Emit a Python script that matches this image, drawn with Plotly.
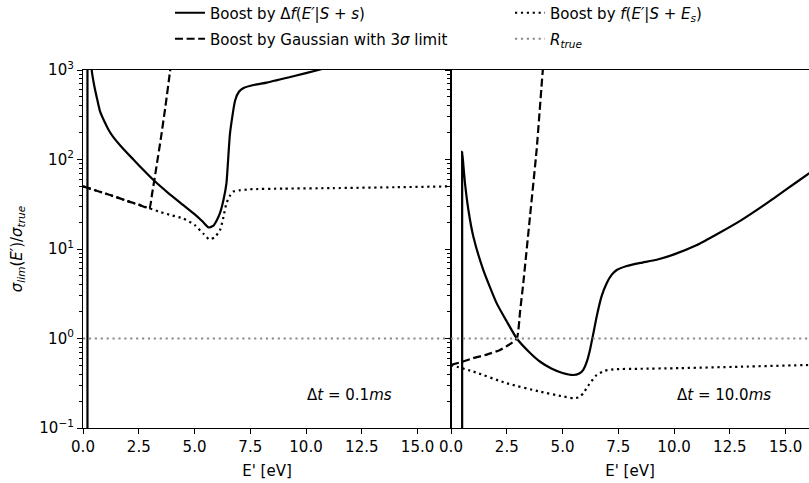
import plotly.graph_objects as go

# ---------------- data ----------------
# Left panel: dt = 0.1 ms
E_solid_a = [0.2, 0.2, 0.3, 0.39, 0.5, 0.62, 0.76, 0.95, 1.15, 1.36, 1.8, 2.26, 2.7, 3.16, 3.8, 4.5, 5.0,
             5.35, 5.63, 5.85, 6.0, 6.14, 6.3, 6.43, 6.59, 6.82, 7.0, 7.2, 7.7, 8.24, 9.43, 10.55, 12.0,
             14.0, 16.5]
V_solid_a = [0.001, 1e6, 5012, 1000, 676, 490, 347, 269, 214, 178, 132, 100, 76.7, 58.9, 42.7, 30.9, 24.5,
             20.4, 17.4, 18.2, 20.9, 25.1, 35.5, 53.7, 195, 457, 575, 631, 684, 724, 851, 1000, 1259,
             1778, 2512]

E_dash_a = [0, 0.5, 1.0, 1.5, 2.0, 2.5, 2.97, 3.1, 3.3, 3.5, 3.7, 3.9, 3.95]
V_dash_a = [50.1, 45.7, 41.7, 38.0, 34.3, 31.3, 28.5, 41.7, 85.1, 178, 398, 955, 1202]

E_dot_a = [0, 1.0, 2.0, 2.97, 3.5, 4.0, 4.5, 5.0, 5.4, 5.66, 5.9, 6.14, 6.3, 6.43, 6.6, 6.72,
           7.0, 7.49, 9.0, 11.2, 14.0, 16.5]
V_dot_a = [50.1, 41.7, 34.3, 28.5, 25.7, 23.7, 21.9, 18.6, 14.8, 12.8, 13.5, 16.2, 22.9, 32.4, 39.8, 43.7,
           45.2, 46.5, 47.3, 47.9, 49.0, 50.1]

# Right panel: dt = 10.0 ms
E_solid_b = [0.5, 0.5, 0.55, 0.63, 0.78, 1.0, 1.45, 2.05, 2.5, 2.95, 3.5, 4.0, 4.5, 5.0, 5.48, 5.75,
             5.93, 6.1, 6.23, 6.4, 6.53, 6.75, 6.98, 7.2, 7.43, 7.88, 8.5, 9.22, 10.0, 11.0, 12.0,
             13.0, 14.0, 15.0, 16.05, 16.5]
V_solid_b = [0.001, 122, 89.1, 53.7, 27.3, 13.8, 5.82, 2.47, 1.55, 1.0, 0.708, 0.550, 0.462, 0.412, 0.391, 0.407,
             0.447, 0.562, 0.745, 1.20, 1.75, 2.95, 4.14, 5.13, 5.82, 6.46, 7.00, 7.59, 8.71, 11.0, 15.0,
             20.9, 30.5, 45.7, 70.0, 84.1]

E_dash_b = [0, 0.5, 1.0, 1.6, 2.2, 2.6, 2.95, 3.1, 3.24, 3.54, 3.84, 4.11, 4.16]
V_dash_b = [0.506, 0.550, 0.603, 0.661, 0.745, 0.851, 1.0, 2.04, 4.14, 22.9, 129, 955, 1259]

E_dot_b = [0, 1.0, 2.5, 3.99, 5.0, 5.48, 5.75, 5.93, 6.2, 6.53, 6.9, 7.28, 8.5, 9.97, 13.0, 16.05, 16.5]
V_dot_b = [0.506, 0.427, 0.316, 0.255, 0.226, 0.215, 0.221, 0.245, 0.309, 0.391, 0.437, 0.453, 0.459,
           0.465, 0.484, 0.506, 0.509]

E_true = [0, 16.5]
R_true = [1.0, 1.0]

x_ticks = [0, 2.5, 5, 7.5, 10, 12.5, 15]
x_ticktext = ["0.0", "2.5", "5.0", "7.5", "10.0", "12.5", "15.0"]
y_ticks = [0.1, 1, 10, 100, 1000]
y_ticktext = ["10<sup>−1</sup>", "10<sup>0</sup>", "10<sup>1</sup>", "10<sup>2</sup>", "10<sup>3</sup>"]
y_minor = [m * 10.0 ** k for k in range(-1, 3) for m in range(2, 10)]

labels = [
    "Boost by Δ<i>f</i>(<i>E′</i>|<i>S</i> + <i>s</i>)",
    "Boost by Gaussian with 3<i>σ</i> limit",
    "Boost by <i>f</i>(<i>E′</i>|<i>S</i> + <i>E<sub>s</sub></i>)",
    "<i>R<sub>true</sub></i>",
]
panel_text = ["Δ<i>t</i> = 0.1<i>ms</i>", "Δ<i>t</i> = 10.0<i>ms</i>"]

# ---------------- figure ----------------
W, H = 809, 483
ML, MR, MT, MB = 83, 0, 70, 55
PW = W - ML - MR
PH = H - MT - MB
split = (451 - ML) / PW

FONT = "DejaVu Sans"
LW = 2.2
DASH = "8px,3.6px"
DOT = "2.2px,3.7px"

fig = go.Figure()

def add(x, y, xa, ya, dash, color, name, legend, show, shape="spline"):
    fig.add_trace(go.Scatter(
        x=x, y=y, xaxis=xa, yaxis=ya, mode="lines", name=name,
        line=dict(color=color, width=LW, dash=dash, shape=shape, smoothing=0.5),
        legend=legend, showlegend=show, hoverinfo="skip"))

add(E_solid_a, V_solid_a, "x", "y", "solid", "black", labels[0], "legend", True)
add(E_dash_a, V_dash_a, "x", "y", DASH, "black", labels[1], "legend2", True)
add(E_dot_a, V_dot_a, "x", "y", DOT, "black", labels[2], "legend3", True)
add(E_true, R_true, "x", "y", DOT, "#8c8c8c", labels[3], "legend4", True, "linear")

add(E_solid_b, V_solid_b, "x2", "y2", "solid", "black", labels[0], "legend", False)
add(E_dash_b, V_dash_b, "x2", "y2", DASH, "black", labels[1], "legend2", False)
add(E_dot_b, V_dot_b, "x2", "y2", DOT, "black", labels[2], "legend3", False)
add(E_true, R_true, "x2", "y2", DOT, "#8c8c8c", labels[3], "legend4", False, "linear")

tickfont = dict(family=FONT, size=15, color="black")
xcommon = dict(tickmode="array", tickvals=x_ticks, ticktext=x_ticktext, ticks="outside",
               ticklen=5, tickwidth=1.2, tickcolor="black", showline=True, linecolor="black",
               linewidth=1.2, mirror=True, showgrid=False, zeroline=False, tickfont=tickfont,
               title=dict(text="E' [eV]", font=tickfont, standoff=10), automargin=False)
ycommon = dict(type="log", range=[-1, 3], tickmode="array", tickvals=y_ticks, ticktext=y_ticktext,
               ticks="outside", ticklen=5, tickwidth=1.2, tickcolor="black", showline=True,
               linecolor="black", linewidth=1.2, showgrid=False, zeroline=False, tickfont=tickfont,
               automargin=False,
               minor=dict(tickmode="array", tickvals=y_minor, ticks="outside", ticklen=3,
                          tickwidth=0.9, tickcolor="black", showgrid=False))

fig.update_layout(
    width=W, height=H,
    margin=dict(l=ML, r=MR, t=MT, b=MB, pad=0, autoexpand=False),
    paper_bgcolor="white", plot_bgcolor="white",
    font=dict(family=FONT, size=15, color="black"),
    xaxis=dict(xcommon, domain=[0, split], range=[0, 16.5], anchor="y"),
    xaxis2=dict(xcommon, domain=[split, 1], range=[0, 16.05], anchor="y2"),
    yaxis=dict(ycommon, domain=[0, 1], mirror=True, anchor="x",
               title=dict(text="<i>σ<sub>lim</sub></i>(<i>E′</i>)/<i>σ<sub>true</sub></i>",
                          font=tickfont, standoff=13)),
    yaxis2=dict(ycommon, domain=[0, 1], matches="y", anchor="x2", showticklabels=False, mirror=False),
    showlegend=True,
)

legend_pos = {"legend": (170, 13), "legend2": (170, 39), "legend3": (510, 13), "legend4": (510, 39)}
for key, (px, py) in legend_pos.items():
    fig.update_layout({key: dict(xref="paper", yref="paper", x=(px - ML) / PW, y=(H - MB - py) / PH,
                                 xanchor="left", yanchor="middle", bgcolor="rgba(0,0,0,0)",
                                 orientation="v", borderwidth=0,
                                 font=dict(family=FONT, size=15, color="black"))})

fig.add_annotation(text=panel_text[0], xref="paper", yref="paper", x=(394 - ML) / PW,
                   y=(H - MB - 395) / PH, xanchor="right", yanchor="middle",
                   showarrow=False, font=dict(family=FONT, size=15, color="black"))
fig.add_annotation(text=panel_text[1], xref="paper", yref="paper", x=(773 - ML) / PW,
                   y=(H - MB - 395) / PH, xanchor="right", yanchor="middle",
                   showarrow=False, font=dict(family=FONT, size=15, color="black"))

fig.write_html("out.html", config={"displayModeBar": False},
               post_script="document.body.style.margin='0px';")
